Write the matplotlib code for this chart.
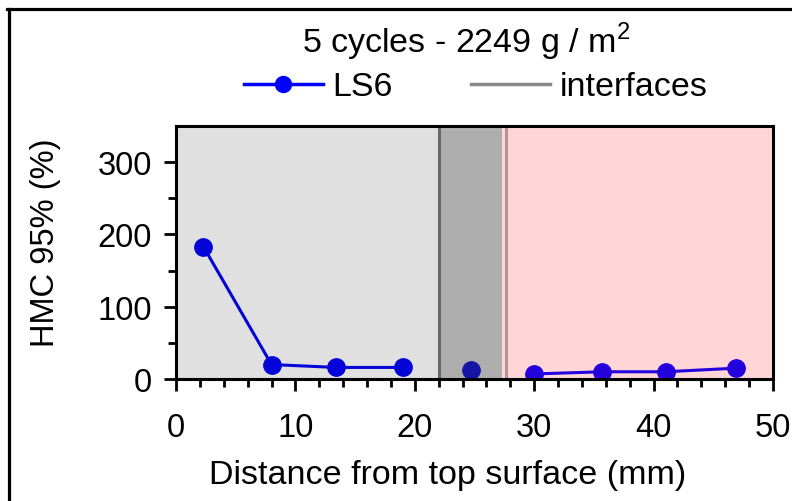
import matplotlib
matplotlib.use("Agg")
import matplotlib.pyplot as plt
from matplotlib.lines import Line2D

plt.rcParams['font.family'] = ['Liberation Sans', 'DejaVu Sans']

# Depth profile of HMC 95% for sample LS6
depth_top = [2.3, 8.0, 13.4, 19.0]
hmc_top = [183, 20, 16, 16]
depth_mid = [24.7]
hmc_mid = [13]
depth_bot = [30.0, 35.7, 41.0, 46.9]
hmc_bot = [7, 10, 10, 15]

# layer boundaries (mm)
interface_1 = 22.0
interface_2 = 27.6
band_end = 27.3

x_ticks = [0, 10, 20, 30, 40, 50]
y_ticks = [0, 100, 200, 300]

W, H = 792, 502
fig = plt.figure(figsize=(W / 100, H / 100), dpi=100)
ax = fig.add_axes([176 / W, 1 - 380 / H, (773 - 176) / W, (380 - 127) / H])

fs = 23.5
fs_text = 24.5

# layer backgrounds
ax.axvspan(0, interface_1, color='#e0e0e0', lw=0, zorder=0)
ax.axvspan(interface_1, band_end, color='#adadad', lw=0, zorder=0)
ax.axvspan(band_end, 50, color='#ffd6d8', lw=0, zorder=0)
ax.axvline(interface_1, color='#686868', lw=2.2, zorder=1)
ax.axvline(interface_2, color='#b49494', lw=2.2, zorder=1)

ms = 12.5
ax.plot(depth_top, hmc_top, '-o', color='#0404d8', lw=2.2, ms=ms, zorder=3)
ax.plot(depth_mid, hmc_mid, 'o', color='#1616a6', ms=ms, zorder=3)
ax.plot(depth_bot, hmc_bot, '-o', color='#2400dc', lw=2.2, ms=ms, zorder=3)

ax.set_xlim(0, 50)
ax.set_ylim(0, 350)
ax.set_xticks(x_ticks)
ax.set_yticks(y_ticks)
ax.set_xticks(range(0, 51, 2), minor=True)
ax.set_yticks([50, 150, 250], minor=True)
ax.tick_params(which='major', direction='out', length=8.5, width=2, labelsize=fs, pad=15)
ax.tick_params(which='minor', direction='out', length=5.5, width=2)
ax.tick_params(axis='y', which='major', pad=9)
for s in ax.spines.values():
    s.set_linewidth(2.2)
    s.set_color('black')
    s.set_zorder(4)

fig.text(448 / W, 1 - 476 / H, 'Distance from top surface (mm)', fontsize=fs_text,
         ha='center', va='center')
fig.text(46 / W, 1 - 243 / H, 'HMC 95% (%)', fontsize=fs, rotation=90,
         ha='center', va='center')

fig.text(466 / W, 1 - 42 / H, r'5 cycles - 2249 g / m$^\mathregular{2}$', fontsize=fs_text,
         ha='center', va='center')

handles = [Line2D([], [], color='#0000ff', lw=2.5, marker='o', ms=11.5),
           Line2D([], [], color='#888888', lw=2.5)]
fig.legend(handles, ['LS6', 'interfaces'], loc='center', bbox_to_anchor=(476 / W, 1 - 88 / H),
           ncol=2, frameon=False, fontsize=fs_text, handlelength=2.3, handletextpad=0.3,
           columnspacing=2.3, borderaxespad=0, borderpad=0)

# outer frame (left and top edges)
fig.add_artist(Line2D([8.5 / W, 8.5 / W], [0, 1 - 9.5 / H], color='black', lw=2.3,
                      transform=fig.transFigure))
fig.add_artist(Line2D([7.3 / W, 1], [1 - 9.5 / H, 1 - 9.5 / H], color='black', lw=2.3,
                      transform=fig.transFigure))

fig.savefig('out.png', dpi=100)
